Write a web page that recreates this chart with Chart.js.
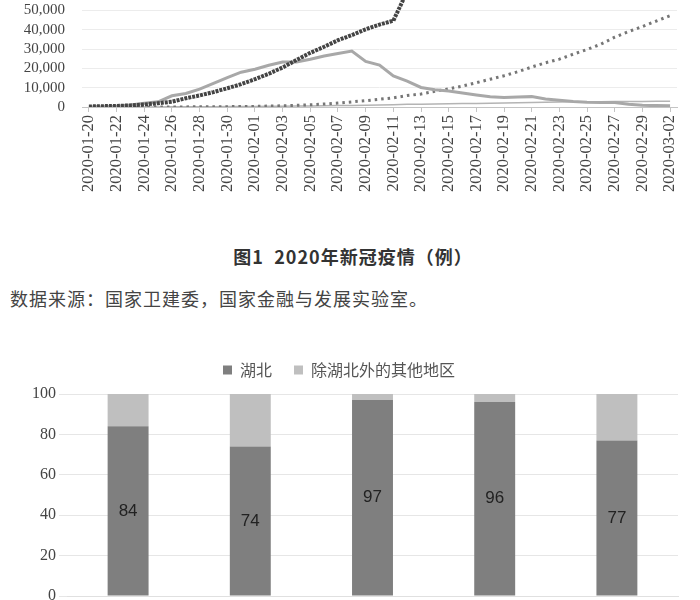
<!DOCTYPE html>
<html lang="zh-CN">
<head>
    <meta charset="UTF-8">
    <title>2020年新冠疫情</title>
    <script src="https://cdn.jsdelivr.net/npm/chart.js"></script>
    <style>
        body {
            margin: 0;
            width: 700px;
            height: 600px;
            overflow: hidden;
            position: relative;
            background: #fff;
            font-family: "Noto Sans CJK SC", sans-serif;
        }
        .box { position: absolute; left: 0; width: 700px; }
        #lineBox { top: -35px; height: 237px; }
        #barBox { top: 340px; height: 286px; }
        .caption {
            position: absolute;
            left: 0; width: 706px;
            top: 243px;
            text-align: center;
            font-size: 18px;
            font-weight: bold;
            letter-spacing: 1px;
            color: #333;
            white-space: pre;
        }
        .source {
            position: absolute;
            left: 10px;
            top: 285px;
            font-size: 18px;
            letter-spacing: 1px;
            color: #444;
        }
    </style>
</head>
<body>

    <div class="box" id="lineBox"><canvas id="lineChart"></canvas></div>
    <div class="caption">图1  2020年新冠疫情（例）</div>
    <div class="source">数据来源：国家卫建委，国家金融与发展实验室。</div>
    <div class="box" id="barBox"><canvas id="barChart"></canvas></div>

    <script>
        // 图1 数据（全国，单位：例）
        const dates = [
            '2020-01-20', '2020-01-21', '2020-01-22', '2020-01-23', '2020-01-24', '2020-01-25',
            '2020-01-26', '2020-01-27', '2020-01-28', '2020-01-29', '2020-01-30', '2020-01-31',
            '2020-02-01', '2020-02-02', '2020-02-03', '2020-02-04', '2020-02-05', '2020-02-06',
            '2020-02-07', '2020-02-08', '2020-02-09', '2020-02-10', '2020-02-11', '2020-02-12',
            '2020-02-13', '2020-02-14', '2020-02-15', '2020-02-16', '2020-02-17', '2020-02-18',
            '2020-02-19', '2020-02-20', '2020-02-21', '2020-02-22', '2020-02-23', '2020-02-24',
            '2020-02-25', '2020-02-26', '2020-02-27', '2020-02-28', '2020-02-29', '2020-03-01',
            '2020-03-02'
        ];
        const confirmed = [
            291, 440, 571, 830, 1287, 1975, 2744, 4515, 5974, 7711, 9692, 11791,
            14380, 17205, 20438, 24324, 28018, 31161, 34546, 37198, 40171, 42638, 44653, 59804,
            63851, 66492, 68500, 70548, 72436, 74185, 74576, 75465, 76288, 76936, 77150, 77658,
            78064, 78497, 78824, 79251, 79824, 80026, 80151
        ];
        const suspected = [
            54, 37, 393, 1072, 1965, 2684, 5794, 6973, 9239, 12167, 15238, 17988,
            19544, 21558, 23214, 23260, 24702, 26359, 27657, 28942, 23589, 21675, 16067, 13435,
            10109, 8969, 8228, 7264, 6242, 5248, 4922, 5206, 5365, 4148, 3434, 2824,
            2491, 2358, 2308, 1418, 851, 715, 587
        ];
        const cured = [
            25, 25, 28, 34, 38, 49, 51, 60, 103, 124, 171, 243,
            328, 475, 632, 892, 1153, 1540, 2050, 2649, 3281, 3996, 4740, 5911,
            6723, 8096, 9419, 10844, 12552, 14376, 16155, 18264, 20659, 22888, 24734, 27323,
            29745, 32495, 36117, 39002, 41625, 44462, 47204
        ];
        const deaths = [
            6, 9, 17, 25, 41, 56, 80, 106, 132, 170, 213, 259,
            304, 361, 425, 490, 563, 636, 722, 811, 908, 1016, 1113, 1367,
            1380, 1523, 1665, 1770, 1868, 2004, 2118, 2236, 2345, 2442, 2592, 2663,
            2715, 2744, 2788, 2835, 2870, 2912, 2943
        ];

        // 湖北占比（%）
        const shareCategories = ['累计确诊', '现有疑似', '现有重症', '累计死亡', '累计治愈'];
        const hubeiShare = [84, 74, 97, 96, 77];
        const otherShare = [16, 26, 3, 4, 23];

        const serif = "'Liberation Serif', 'DejaVu Serif', serif";

        new Chart(document.getElementById('lineChart'), {
            type: 'line',
            data: {
                labels: dates,
                datasets: [
                    { label: '累计确诊', data: confirmed, borderColor: '#444', borderWidth: 4, borderDash: [3, 1] },
                    { label: '现有疑似', data: suspected, borderColor: '#a8a8a8', borderWidth: 3 },
                    { label: '累计治愈', data: cured, borderColor: '#767676', borderWidth: 3, borderDash: [2.5, 4] },
                    { label: '累计死亡', data: deaths, borderColor: '#b4b4b4', borderWidth: 1.5 }
                ]
            },
            options: {
                responsive: true,
                maintainAspectRatio: false,
                animation: false,
                elements: { point: { radius: 0 }, line: { tension: 0, borderCapStyle: 'butt' } },
                layout: { padding: { right: 23 } },
                plugins: { legend: { display: false }, tooltip: { enabled: false } },
                scales: {
                    x: {
                        offset: true,
                        grid: { drawOnChartArea: false, tickColor: '#c4c4c4', tickLength: 5 },
                        border: { color: '#c4c4c4' },
                        ticks: {
                            autoSkip: false, maxRotation: 90, minRotation: 90,
                            color: '#444', font: { family: serif, size: 16.5 },
                            callback: function (v, i) { return i % 2 === 0 ? dates[i] : null; }
                        },
                        afterFit: function (s) { s.height = 95; }
                    },
                    y: {
                        min: 0, max: 60000,
                        grid: { color: '#ececec', drawTicks: false },
                        border: { display: false },
                        ticks: {
                            stepSize: 10000, autoSkip: false, padding: 17,
                            color: '#444', font: { family: serif, size: 15 },
                            callback: function (v) { return v.toLocaleString('en-US'); }
                        },
                        afterFit: function (s) { s.width = 82; }
                    }
                }
            }
        });

        const barValueLabels = {
            id: 'barValueLabels',
            afterDatasetsDraw(chart) {
                const ctx = chart.ctx;
                const meta = chart.getDatasetMeta(0);
                ctx.save();
                ctx.fillStyle = '#222';
                ctx.font = "17px 'Liberation Sans', Arial, sans-serif";
                ctx.textAlign = 'center';
                ctx.textBaseline = 'middle';
                meta.data.forEach((bar, i) => {
                    const p = bar.getCenterPoint();
                    ctx.fillText(hubeiShare[i], p.x, p.y);
                });
                ctx.restore();
            }
        };

        // 图例与绘图区之间多留一点空
        const legendGap = {
            id: 'legendGap',
            beforeInit(chart) {
                const fit = chart.legend.fit;
                chart.legend.fit = function () {
                    fit.bind(chart.legend)();
                    this.height += 6;
                };
            }
        };

        new Chart(document.getElementById('barChart'), {
            type: 'bar',
            data: {
                labels: shareCategories,
                datasets: [
                    { label: '湖北', data: hubeiShare, backgroundColor: '#7f7f7f' },
                    { label: '除湖北外的其他地区', data: otherShare, backgroundColor: '#bfbfbf' }
                ]
            },
            options: {
                responsive: true,
                maintainAspectRatio: false,
                animation: false,
                barPercentage: 0.335,
                categoryPercentage: 1,
                layout: { padding: { right: 22 } },
                plugins: {
                    tooltip: { enabled: false },
                    legend: {
                        position: 'top',
                        labels: {
                            boxWidth: 9, boxHeight: 9, padding: 22,
                            color: '#555',
                            font: { family: "'Noto Sans CJK SC', sans-serif", size: 16 }
                        }
                    }
                },
                scales: {
                    x: {
                        stacked: true,
                        grid: { display: false },
                        border: { color: '#e0e0e0' },
                        ticks: { color: '#444', font: { family: "'Noto Sans CJK SC', sans-serif", size: 14 } },
                        afterFit: function (s) { s.height = 30; }
                    },
                    y: {
                        stacked: true,
                        min: 0, max: 100,
                        grid: { color: '#e6e6e6' },
                        border: { display: false },
                        ticks: { stepSize: 20, color: '#444', font: { family: serif, size: 16 } },
                        afterFit: function (s) { s.width = 67; }
                    }
                }
            },
            plugins: [barValueLabels, legendGap]
        });
    </script>
</body>
</html>
